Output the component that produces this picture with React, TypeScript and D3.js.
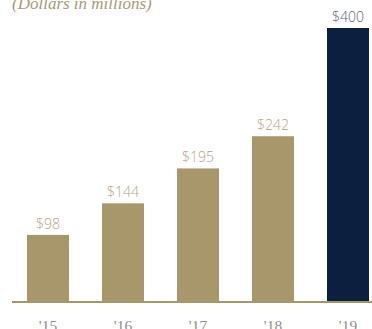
import React from "react";
import * as d3 from "d3";

const categories = ["'15", "'16", "'17", "'18", "'19"];
const values = [98, 144, 195, 242, 400];
const valueLabels = ["$98", "$144", "$195", "$242", "$400"];
const title = "(Dollars in millions)";

export default function App() {
  const W = 372, H = 329;
  const x = d3.scaleBand().domain(categories).range([10.5, 385.5]).paddingInner(0.44).paddingOuter(0.22);
  const y = d3.scaleLinear().domain([0, 400]).range([302, 28]);
  const gold = "#a8976a";
  const navy = "#0d1f3e";
  return (
    <svg width={W} height={H} style={{ position: "absolute", left: 0, top: 0, background: "#fff" }}>
      <text x={12} y={8.5} fontFamily="'Liberation Serif', serif" fontStyle="italic" fontSize={17} fill="#a89a78">{title}</text>
      {categories.map((c, i) => {
        const last = i === categories.length - 1;
        return (
          <g key={c}>
            <rect x={x(c)} y={y(values[i])} width={x.bandwidth()} height={y(0) - y(values[i])} fill={last ? navy : gold} />
            <text x={x(c)! + x.bandwidth() / 2} y={y(values[i]) - 6} textAnchor="middle" fontFamily="'Open Sans', sans-serif" fontWeight={300} fontSize={14} fill={last ? "#5a6478" : "#b3a67f"}>{valueLabels[i]}</text>
            <text x={x(c)! + x.bandwidth() / 2} y={331} textAnchor="middle" fontFamily="'Liberation Serif', serif" fontSize={15.5} fill="#8f8f8f">{c}</text>
          </g>
        );
      })}
      <line x1={12} x2={372} y1={302} y2={302} stroke={gold} strokeWidth={2} />
    </svg>
  );
}
